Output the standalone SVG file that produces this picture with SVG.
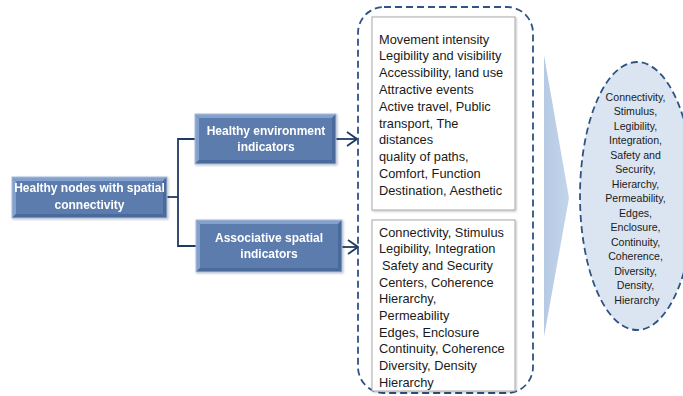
<svg xmlns="http://www.w3.org/2000/svg" width="683" height="396" viewBox="0 0 683 396">
  <style>
    .face { fill: #5c7cad; }
    .lite { fill: #84a0cc; }
    .dark { fill: #4a6a9b; }
    .rim { fill: none; stroke: #a7bcdc; stroke-width: 1; }
    .node-text { font-family: "Liberation Sans", Arial, sans-serif; font-weight: bold; font-size: 12px; fill: #ffffff; text-anchor: middle; }
    .list { fill: #ffffff; stroke: #a9a9a9; stroke-width: 1; }
    .list-text { font-family: "Liberation Sans", Arial, sans-serif; font-size: 12.8px; fill: #1a1a1a; }
    .ell-text { font-family: "Liberation Sans", Arial, sans-serif; font-size: 10.6px; fill: #1a1a1a; text-anchor: middle; }
    .dash { fill: none; stroke: #2f5382; stroke-width: 1.8; stroke-dasharray: 7 4; }
    .wire { fill: none; stroke: #1f3a61; stroke-width: 1.8; }
  </style>
  <defs>
    <marker id="open-arrow" viewBox="0 0 12 16" refX="11" refY="8" markerWidth="12" markerHeight="16" markerUnits="userSpaceOnUse" orient="auto">
      <path d="M1,1 L11,8 L1,15" fill="none" stroke="#1f3a61" stroke-width="1.8"/>
    </marker>
    <linearGradient id="big-arrow-fill" x1="0" y1="0" x2="1" y2="0">
      <stop offset="0" stop-color="#b6cae4"/>
      <stop offset="1" stop-color="#c4d5ea"/>
    </linearGradient>
    <filter id="soft-shadow" x="-5%" y="-5%" width="110%" height="110%">
      <feDropShadow dx="1" dy="1" stdDeviation="0.8" flood-color="#000000" flood-opacity="0.25"/>
    </filter>
  </defs>

  <!-- connectors -->
  <g id="connectors">
    <polyline class="wire" points="167,197 178,197"/>
    <polyline class="wire" points="195,139 178,139 178,246 196,246"/>
    <line class="wire" x1="336" y1="139" x2="357" y2="139" marker-end="url(#open-arrow)"/>
    <line class="wire" x1="342" y1="247" x2="358" y2="247" marker-end="url(#open-arrow)"/>
  </g>

  <!-- root node -->
  <g id="node-root" filter="url(#soft-shadow)">
    <rect class="face" x="12" y="177" width="155" height="41"/>
    <polygon class="lite" points="12,177 167,177 163,181 16,181"/>
    <polygon class="lite" points="12,177 16,181 16,214 12,218"/>
    <polygon class="dark" points="12,218 16,214 163,214 167,218"/>
    <polygon class="dark" points="167,177 167,218 163,214 163,181"/>
    <rect class="rim" x="12" y="177" width="155" height="41"/>
    <text class="node-text" x="89.5" y="192">Healthy nodes with spatial</text>
    <text class="node-text" x="89.5" y="209">connectivity</text>
  </g>

  <!-- healthy environment indicators -->
  <g id="node-environment" filter="url(#soft-shadow)">
    <rect class="face" x="195" y="114" width="141" height="50"/>
    <polygon class="lite" points="195,114 336,114 332,118 199,118"/>
    <polygon class="lite" points="195,114 199,118 199,160 195,164"/>
    <polygon class="dark" points="195,164 199,160 332,160 336,164"/>
    <polygon class="dark" points="336,114 336,164 332,160 332,118"/>
    <rect class="rim" x="195" y="114" width="141" height="50"/>
    <text class="node-text" x="266" y="135">Healthy environment</text>
    <text class="node-text" x="266" y="151">indicators</text>
  </g>

  <!-- associative spatial indicators -->
  <g id="node-associative" filter="url(#soft-shadow)">
    <rect class="face" x="196" y="220" width="146" height="52"/>
    <polygon class="lite" points="196,220 342,220 338,224 200,224"/>
    <polygon class="lite" points="196,220 200,224 200,268 196,272"/>
    <polygon class="dark" points="196,272 200,268 338,268 342,272"/>
    <polygon class="dark" points="342,220 342,272 338,268 338,224"/>
    <rect class="rim" x="196" y="220" width="146" height="52"/>
    <text class="node-text" x="269" y="242">Associative spatial</text>
    <text class="node-text" x="269" y="258">indicators</text>
  </g>

  <!-- dashed container with the two indicator lists -->
  <g id="node-lists">
    <rect class="dash" x="358" y="7" width="175" height="386" rx="26" ry="26"/>
    <rect class="list" x="372" y="17" width="143" height="193" filter="url(#soft-shadow)"/>
    <text class="list-text">
      <tspan x="379" y="43.5">Movement intensity</tspan>
      <tspan x="379" y="60.3">Legibility and visibility</tspan>
      <tspan x="379" y="77.1">Accessibility, land use</tspan>
      <tspan x="379" y="93.9">Attractive events</tspan>
      <tspan x="379" y="110.7">Active travel, Public</tspan>
      <tspan x="379" y="127.5">transport, The</tspan>
      <tspan x="379" y="144.3">distances</tspan>
      <tspan x="379" y="161.1">quality of paths,</tspan>
      <tspan x="379" y="177.9">Comfort, Function</tspan>
      <tspan x="379" y="194.7">Destination, Aesthetic</tspan>
    </text>
    <rect class="list" x="372" y="220" width="143" height="171" filter="url(#soft-shadow)"/>
    <text class="list-text">
      <tspan x="379" y="236.5">Connectivity, Stimulus</tspan>
      <tspan x="379" y="253.2">Legibility, Integration</tspan>
      <tspan x="382" y="269.9">Safety and Security</tspan>
      <tspan x="379" y="286.6">Centers, Coherence</tspan>
      <tspan x="379" y="303.3">Hierarchy,</tspan>
      <tspan x="379" y="320">Permeability</tspan>
      <tspan x="379" y="336.7">Edges, Enclosure</tspan>
      <tspan x="379" y="353.4">Continuity, Coherence</tspan>
      <tspan x="379" y="370.1">Diversity, Density</tspan>
      <tspan x="379" y="386.8">Hierarchy</tspan>
    </text>
  </g>

  <!-- broad pointer toward the summary -->
  <g id="node-pointer">
    <polygon points="544,55 569,198 544,337" fill="url(#big-arrow-fill)"/>
  </g>

  <!-- summary ellipse, running off the right edge -->
  <g id="node-summary">
    <ellipse cx="637" cy="196" rx="57" ry="134" fill="#dbe5f1" stroke="#2f5382" stroke-width="1.8" stroke-dasharray="7 4"/>
    <text class="ell-text">
      <tspan x="637" y="100.5">Connectivity,</tspan>
      <tspan x="637" y="115">Stimulus,</tspan>
      <tspan x="637" y="129.5">Legibility,</tspan>
      <tspan x="637" y="144">Integration,</tspan>
      <tspan x="637" y="158.5">Safety and</tspan>
      <tspan x="637" y="173">Security,</tspan>
      <tspan x="637" y="187.5">Hierarchy,</tspan>
      <tspan x="637" y="202">Permeability,</tspan>
      <tspan x="637" y="216.5">Edges,</tspan>
      <tspan x="637" y="231">Enclosure,</tspan>
      <tspan x="637" y="245.5">Continuity,</tspan>
      <tspan x="637" y="260">Coherence,</tspan>
      <tspan x="637" y="274.5">Diversity,</tspan>
      <tspan x="637" y="289">Density,</tspan>
      <tspan x="637" y="303.5">Hierarchy</tspan>
    </text>
  </g>
</svg>
